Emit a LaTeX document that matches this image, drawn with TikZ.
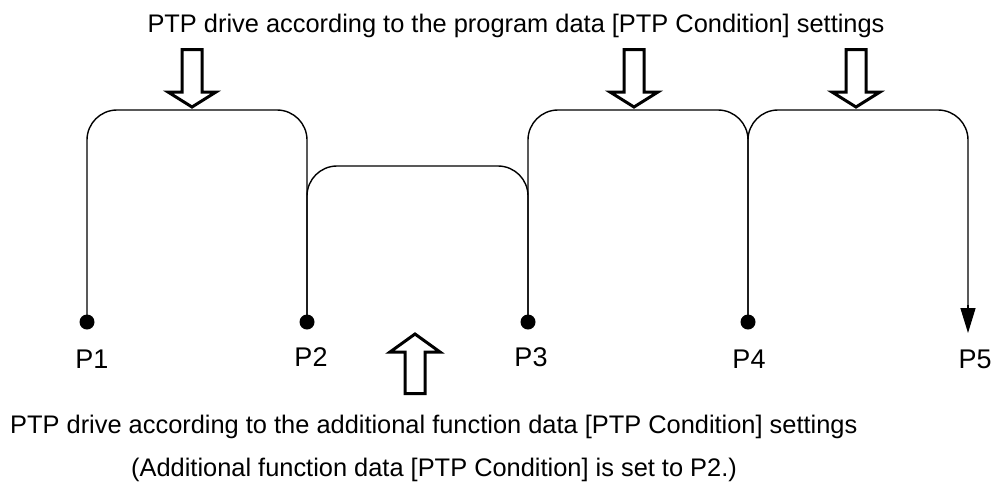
\documentclass[tikz,border=0pt]{standalone}
\usepackage{fontspec}
\setmainfont{Liberation Sans}
\usetikzlibrary{arrows.meta}
\begin{document}
\begin{tikzpicture}[x=1pt,y=-1pt,
  route/.style={line width=1.4pt, rounded corners=30pt},
  blockarrow/.style={line width=3pt, miter limit=10, line join=miter, fill=white},
  ptdot/.style={circle, fill=black, inner sep=0pt, minimum size=15pt},
  plabel/.style={anchor=base, inner sep=0pt, font=\fontsize{27}{30}\selectfont},
  txt/.style={inner sep=0pt, font=\fontsize{25.4}{30}\selectfont}]
\useasboundingbox (0,0) rectangle (998,483);
% points
\coordinate (P1) at (87,322);
\coordinate (P2) at (307,322);
\coordinate (P3) at (528,322);
\coordinate (P4) at (748,322);
\coordinate (P5) at (968,333);
\coordinate (high) at (0,110);
\coordinate (low) at (0,166);
\coordinate (P5in) at ([yshift=22pt]P5);
% routes
\draw[route] (P1) -- (P1 |- high) -- (P2 |- high) -- (P2);
\draw[route] (P2) -- (P2 |- low) -- (P3 |- low) -- (P3);
\draw[route] (P3) -- (P3 |- high) -- (P4 |- high) -- (P4);
\draw[route] (P4) -- (P4 |- high) -- (P5 |- high) -- (P5in);
\draw[line width=1.4pt, -{Triangle[length=25pt,width=15pt]}] ([yshift=28pt]P5) -- (P5);
% dots
\foreach \p in {P1,P2,P3,P4} \node[ptdot] (d\p) at (\p) {};
% labels
\node[plabel] (l1) at (92,368) {P1};
\node[plabel] (l2) at (311,366) {P2};
\node[plabel] (l3) at (531,366) {P3};
\node[plabel] (l4) at (749,368) {P4};
\node[plabel] (l5) at (975,368) {P5};
% down block arrows
\foreach \cx/\n in {192/a1,634/a2,856/a3}{
  \draw[blockarrow] (\cx-10,49.5) -- (\cx+10,49.5) -- (\cx+10,92) -- (\cx+24,92) -- (\cx,107) -- (\cx-24,92) -- (\cx-10,92) -- cycle;
}
% up block arrow
\draw[blockarrow] (405,393.5) -- (425,393.5) -- (425,352) -- (440,352) -- (415,334) -- (390,352) -- (405,352) -- cycle;
% texts
\node[txt, anchor=base] (top) at (516,32) {PTP drive according to the program data [PTP Condition] settings};
\node[txt, anchor=base west] (b1) at (10,433) {PTP drive according to the additional function data [PTP Condition] settings};
\node[txt, anchor=base west] (b2) at (131,476) {(Additional function data [PTP Condition] is set to P2.)};
\end{tikzpicture}
\end{document}
